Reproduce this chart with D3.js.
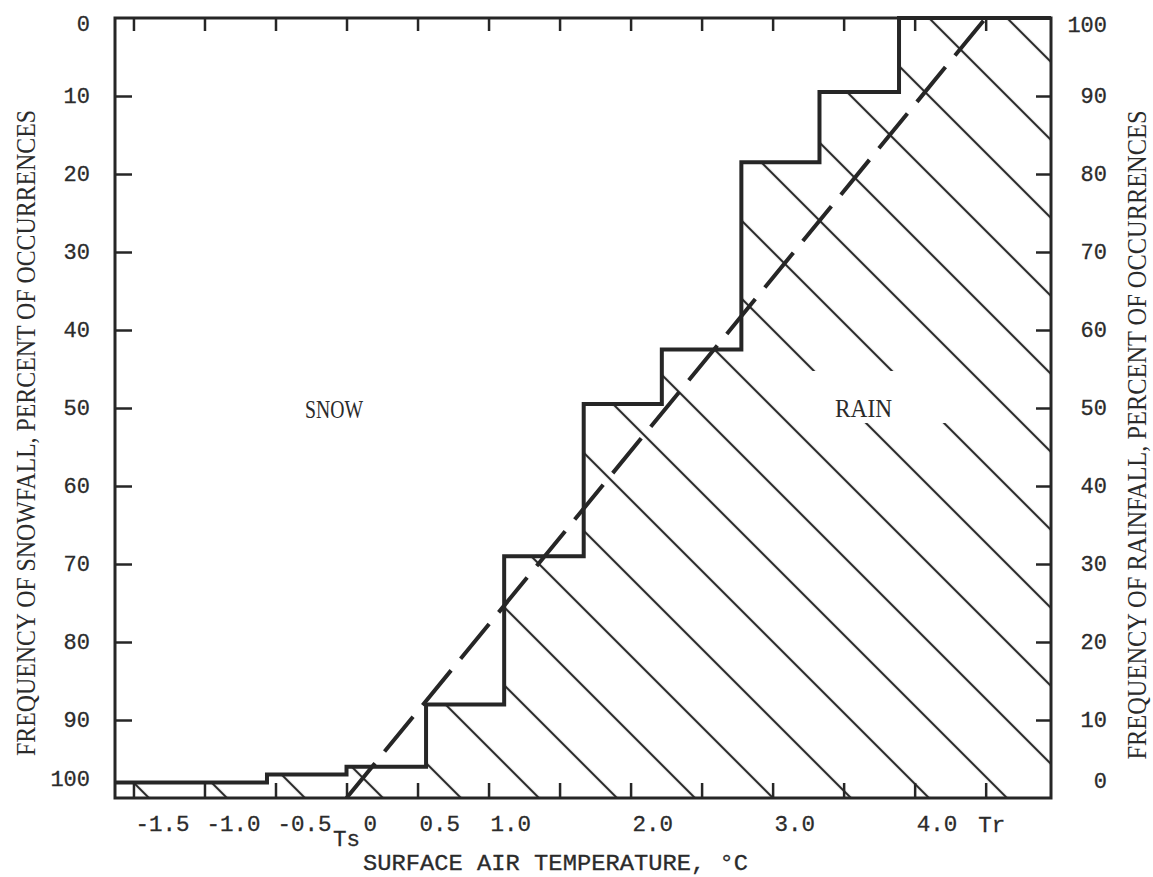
<!DOCTYPE html>
<html>
<head>
<meta charset="utf-8">
<script src="https://cdn.jsdelivr.net/npm/d3@7"></script>
<style>
  body { margin: 0; background: #fff; }
  svg { display: block; }
  .lbl { font-family: "Liberation Mono", monospace; fill: #2b2b2b; stroke: #2b2b2b; stroke-width: 0.3; }
  .ttl { font-family: "Liberation Serif", serif; fill: #2b2b2b; }
</style>
</head>
<body>
<svg id="chart" width="1153" height="877"></svg>
<script>
// temperature axis (deg C)
var tempTicks = [-1.5, -1.0, -0.5, 0, 0.5, 1.0, 1.5, 2.0, 2.5, 3.0, 3.5, 4.0, 4.5]
var tempLabels = [-1.5, -1.0, -0.5, 0, 0.5, 1.0, 2.0, 3.0, 4.0]
var tempDomain = [-1.63, 4.96]

// bin edges (1 deg F steps, in deg C) and observed snow frequency per bin
var binEdges = [-0.56, 0, 0.56, 1.11, 1.67, 2.22, 2.78, 3.33, 3.89]
var snowPct = [98, 97, 96, 88, 69, 49.5, 42.5, 18.5, 9.5, 0]

// threshold temperatures for the dashed line
var Ts = 0
var Tr = 4.5

var snowTicks = [0, 10, 20, 30, 40, 50, 60, 70, 80, 90, 100]
var rainTicks = [100, 90, 80, 70, 60, 50, 40, 30, 20, 10, 0]

// plot frame
var pL = 115, pR = 1051, pT = 18, pB = 798
var ink = "#262626"

var svg = d3.select("#chart")

var x = d3.scaleLinear().domain(tempDomain).range([pL, pR])
var y = d3.scaleLinear().domain([0, 100]).range([pT, pB])      // snow %
var yR = d3.scaleLinear().domain([100, 0]).range([pT, pB])     // rain %

// hatch pattern for the rain area
var hw = 78 / Math.SQRT2
var pat = svg.append("defs").append("pattern")
  .attr("id", "hatch")
  .attr("patternUnits", "userSpaceOnUse")
  .attr("width", hw).attr("height", hw)
  .attr("patternTransform", "translate(14,0) rotate(-45)")
pat.append("line")
  .attr("x1", hw / 2).attr("x2", hw / 2)
  .attr("y1", -1).attr("y2", hw + 1)
  .attr("stroke", ink).attr("stroke-width", 2.2)

// step points
var pts = [[tempDomain[0], snowPct[0]]]
binEdges.forEach(function(e, i) { pts.push([e, snowPct[i + 1]]) })
pts.push([tempDomain[1], snowPct[snowPct.length - 1]])

var area = d3.area()
  .x(function(d) { return x(d[0]) })
  .y0(y(100))
  .y1(function(d) { return y(d[1]) })
  .curve(d3.curveStepAfter)

svg.append("path")
  .datum(pts)
  .attr("d", area)
  .attr("fill", "url(#hatch)")

// gap in hatching around the RAIN label
svg.append("rect")
  .attr("x", 863 - 58).attr("y", 409 - 38)
  .attr("width", 150).attr("height", 52)
  .attr("fill", "#fff")

// dashed line Ts -> Tr
svg.append("path")
  .datum([[Ts, 100], [Tr, 0]])
  .attr("d", d3.line().x(function(d) { return x(d[0]) }).y(function(d) { return y(d[1]) }))
  .attr("fill", "none")
  .attr("stroke", ink)
  .attr("stroke-width", 4)
  .attr("stroke-dasharray", "45,15")

// step line
svg.append("path")
  .datum(pts)
  .attr("d", d3.line().x(function(d) { return x(d[0]) }).y(function(d) { return y(d[1]) }).curve(d3.curveStepAfter))
  .attr("fill", "none")
  .attr("stroke", ink)
  .attr("stroke-width", 4)
  .attr("stroke-linejoin", "miter")

// ticks (inward)
function tickStyle(g) {
  g.select(".domain").remove()
  g.selectAll("line").attr("stroke", ink).attr("stroke-width", 2.5)
  g.selectAll("text").remove()
}
svg.append("g").attr("transform", "translate(0," + pB + ")")
  .call(d3.axisBottom(x).tickValues(tempTicks).tickSize(-15)).call(tickStyle)
svg.append("g").attr("transform", "translate(0," + pT + ")")
  .call(d3.axisTop(x).tickValues(tempTicks).tickSize(-13)).call(tickStyle)
svg.append("g").attr("transform", "translate(" + pL + ",0)")
  .call(d3.axisLeft(y).tickValues(snowTicks.slice(1, -1)).tickSize(-17)).call(tickStyle)
svg.append("g").attr("transform", "translate(" + pR + ",0)")
  .call(d3.axisRight(yR).tickValues(rainTicks.slice(1, -1)).tickSize(-15)).call(tickStyle)

// frame
svg.append("rect")
  .attr("x", pL).attr("y", pT)
  .attr("width", pR - pL).attr("height", pB - pT)
  .attr("fill", "none").attr("stroke", ink).attr("stroke-width", 3)

// left tick labels
svg.append("g").selectAll("text")
  .data(snowTicks).enter().append("text")
  .attr("class", "lbl")
  .attr("x", 90)
  .attr("y", function(d) { return y(d) + (d === 0 ? 6 : (d === 100 ? -19 : 0)) })
  .attr("dy", "0.32em")
  .attr("text-anchor", "end")
  .style("font-size", "22px")
  .text(function(d) { return d })

// right tick labels
svg.append("g").selectAll("text")
  .data(rainTicks).enter().append("text")
  .attr("class", "lbl")
  .attr("x", 1107)
  .attr("y", function(d) { return yR(d) + (d === 100 ? 7 : (d === 0 ? -17 : 0)) })
  .attr("dy", "0.32em")
  .attr("text-anchor", "end")
  .style("font-size", "22px")
  .text(function(d) { return d })

// bottom tick labels
svg.append("g").selectAll("text")
  .data(tempLabels).enter().append("text")
  .attr("class", "lbl")
  .attr("x", function(d) { return x(d) + (d === 0 ? 17 : 2) })
  .attr("y", pB + 33)
  .style("font-size", "22.5px")
  .text(function(d) { return d === 0 ? "0" : d.toFixed(1) })

svg.append("text").attr("class", "lbl")
  .attr("x", x(Ts)).attr("y", pB + 48)
  .attr("text-anchor", "middle")
  .style("font-size", "22.5px")
  .text("Ts")
svg.append("text").attr("class", "lbl")
  .attr("x", x(Tr) + 6).attr("y", pB + 34)
  .attr("text-anchor", "middle")
  .style("font-size", "22.5px")
  .text("Tr")

// axis titles
svg.append("text").attr("class", "lbl")
  .attr("x", 363).attr("y", 870)
  .style("font-size", "22.5px")
  .attr("textLength", 385).attr("lengthAdjust", "spacingAndGlyphs")
  .text("SURFACE AIR TEMPERATURE, °C")

svg.append("text").attr("class", "ttl")
  .attr("transform", "translate(35,433) rotate(-90)")
  .attr("text-anchor", "middle")
  .style("font-size", "27px")
  .attr("textLength", 646).attr("lengthAdjust", "spacingAndGlyphs")
  .text("FREQUENCY OF SNOWFALL, PERCENT OF OCCURRENCES")

svg.append("text").attr("class", "ttl")
  .attr("transform", "translate(1146,435) rotate(-90)")
  .attr("text-anchor", "middle")
  .style("font-size", "27px")
  .attr("textLength", 649).attr("lengthAdjust", "spacingAndGlyphs")
  .text("FREQUENCY OF RAINFALL, PERCENT OF OCCURRENCES")

// region labels
svg.append("text").attr("class", "ttl")
  .attr("x", 305).attr("y", 418)
  .style("font-size", "26px")
  .attr("textLength", 58).attr("lengthAdjust", "spacingAndGlyphs")
  .text("SNOW")
svg.append("text").attr("class", "ttl")
  .attr("x", 835).attr("y", 417)
  .style("font-size", "26px")
  .attr("textLength", 57).attr("lengthAdjust", "spacingAndGlyphs")
  .text("RAIN")
</script>
</body>
</html>
